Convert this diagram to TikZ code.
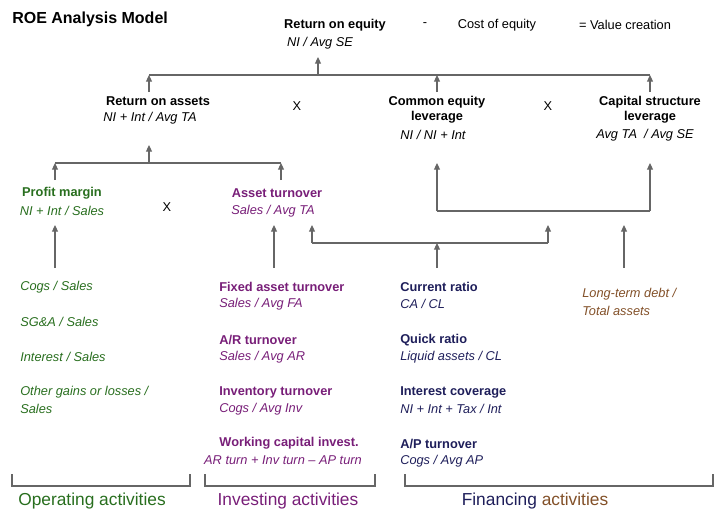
\documentclass[tikz,border=0pt]{standalone}
\usepackage{fontspec}
\setmainfont{Liberation Sans}
\usetikzlibrary{arrows.meta}
\definecolor{grn}{RGB}{40,110,30}
\definecolor{pur}{RGB}{120,30,120}
\definecolor{nav}{RGB}{30,30,90}
\definecolor{brn}{RGB}{130,80,40}
\begin{document}
\begin{tikzpicture}[x=0.75pt,y=-0.75pt,
  t/.style={inner sep=0pt,font=\fontsize{9.6}{11.5}\selectfont},
  b/.style={t,font=\fontsize{9.6}{11.5}\selectfont\bfseries},
  it/.style={t,font=\fontsize{9.6}{11.5}\selectfont\itshape},
  ln/.style={draw=black!60,line width=0.8pt},
  ar/.style={ln,-{Triangle[length=5pt,width=4.5pt]}},
  act/.style={t,font=\fontsize{13}{15}\selectfont}]
\useasboundingbox (0,0) rectangle (720,518);
\node[t,anchor=west,font=\fontsize{12}{14}\selectfont\bfseries] (title) at (12,19) {ROE Analysis Model};
\node[b] (roe) at (335,25) {Return on equity};
\node[it] (roef) at (320,43) {NI / Avg SE};
\node[t] (minus) at (425,25) {-};
\node[t] (coe) at (497,25) {Cost of equity};
\node[t] (vc) at (625,25) {= Value creation};
% level 1
\node[b] (roa) at (158,101) {Return on assets};
\node[it] (roaf) at (150,118) {NI + Int / Avg TA};
\node[t] (x1) at (297,106) {X};
\node[b,align=center] (cel) at (437,110) {Common equity\\leverage};
\node[it] (celf) at (433,135) {NI / NI + Int};
\node[t] (x2) at (548,106) {X};
\node[b,align=center] (csl) at (650,110) {Capital structure\\leverage};
\node[it] (cslf) at (645,135) {Avg TA \ / Avg SE};
\coordinate (l1L) at (149,75); \coordinate (l1M) at (318,75); \coordinate (l1R) at (650,75);
\draw[ln] (l1L) -- (l1R);
\draw[ar] (l1M) -- (318,57);
\draw[ar] (149,92) -- (l1L);
\draw[ar] (437,92) -- (437,75);
\draw[ar] (650,92) -- (l1R);
% level 2
\node[b,text=grn] (pm) at (62,193) {Profit margin};
\node[it,text=grn] (pmf) at (62,211) {NI + Int / Sales};
\node[t] (x3) at (167,207) {X};
\node[b,text=pur] (at) at (277,193) {Asset turnover};
\node[it,text=pur] (atf) at (273,211) {Sales / Avg TA};
\draw[ln] (55,163) -- (281,163);
\draw[ar] (149,163) -- (149,145);
\draw[ar] (55,180) -- (55,163);
\draw[ar] (281,180) -- (281,163);
\draw[ln] (437,211) -- (650,211);
\draw[ar] (437,211) -- (437,163);
\draw[ar] (650,211) -- (650,163);
% level 3 arrows
\draw[ar] (55,268) -- (55,225);
\draw[ar] (274,268) -- (274,225);
\draw[ar] (624,268) -- (624,225);
\draw[ar] (437,268) -- (437,243);
\draw[ln] (312,243) -- (548,243);
\draw[ar] (312,243) -- (312,225);
\draw[ar] (548,243) -- (548,225);
% operating
\begin{scope}[every node/.style={it,text=grn,anchor=west}]
\node (o1) at (20,287) {Cogs / Sales};
\node (o2) at (20,322) {SG\&A / Sales};
\node (o3) at (20,357) {Interest / Sales};
\node (o4) at (20,392) {Other gains or losses /};
\node (o5) at (20,409) {Sales};
\end{scope}
% investing
\begin{scope}[every node/.style={b,text=pur,anchor=west}]
\node (i1) at (219,287) {Fixed asset turnover};
\node (i3) at (219,340) {A/R turnover};
\node (i5) at (219,392) {Inventory turnover};
\end{scope}
\begin{scope}[every node/.style={it,text=pur,anchor=west}]
\node (i2) at (219,304) {Sales / Avg FA};
\node (i4) at (219,357) {Sales / Avg AR};
\node (i6) at (219,409) {Cogs / Avg Inv};
\end{scope}
\node[b,text=pur] (i7) at (289,443) {Working capital invest.};
\node[it,text=pur] (i8) at (283,460) {AR turn + Inv turn -- AP turn};
% financing
\begin{scope}[every node/.style={b,text=nav,anchor=west}]
\node (f1) at (400,287) {Current ratio};
\node (f3) at (400,340) {Quick ratio};
\node (f5) at (400,392) {Interest coverage};
\node (f7) at (400,444) {A/P turnover};
\end{scope}
\begin{scope}[every node/.style={it,text=nav,anchor=west}]
\node (f2) at (400,304) {CA / CL};
\node (f4) at (400,357) {Liquid assets / CL};
\node (f6) at (400,409) {NI + Int + Tax / Int};
\node (f8) at (400,461) {Cogs / Avg AP};
\end{scope}
\node[it,text=brn,anchor=west] (ltd1) at (582,294) {Long-term debt /};
\node[it,text=brn,anchor=west] (ltd2) at (582,311) {Total assets};
% brackets
\draw[ln] (12,474) -- (12,486) -- (190,486) -- (190,474);
\draw[ln] (205,474) -- (205,486) -- (375,486) -- (375,474);
\draw[ln] (405,474) -- (405,486) -- (713,486) -- (713,474);
\node[act,text=grn] (oa) at (92,501) {Operating activities};
\node[act,text=pur] (ia) at (288,501) {Investing activities};
\node[act] (fa) at (535,501) {\textcolor{nav}{Financing} \textcolor{brn}{activities}};
\end{tikzpicture}
\end{document}
